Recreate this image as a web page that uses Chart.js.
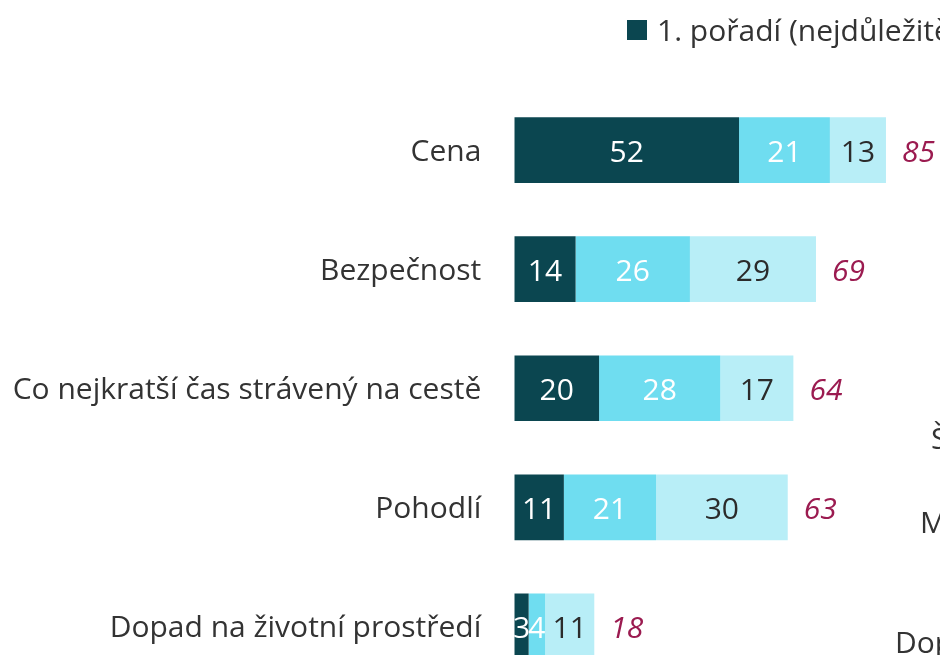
<!DOCTYPE html>
<html lang="cs">
<head>
<meta charset="utf-8">
<script src="https://cdn.jsdelivr.net/npm/chart.js@4/dist/chart.umd.min.js"></script>
<style>
  html, body { margin: 0; padding: 0; background: #fff; overflow: hidden; width: 940px; height: 655px; }
  #wrap { position: absolute; left: 0; top: 0; width: 1000px; height: 738px; }
  #legend { position: absolute; left: 627px; top: 10px; height: 40px; white-space: nowrap; font-family: "Open Sans", sans-serif; font-size: 30px; line-height: 40px; color: #333; display: flex; align-items: center; }
  #legend .item { display: flex; align-items: center; margin-right: 30px; }
  #legend .box { width: 20px; height: 20px; margin-right: 10px; }
  .frag { position: absolute; white-space: nowrap; font-family: "Open Sans", sans-serif; font-size: 30px; line-height: 40px; color: #333; }
</style>
</head>
<body>
<div id="wrap"><canvas id="c" width="1000" height="738"></canvas></div>
<div id="legend"></div>
<div class="frag" style="left:931px; top:418px;">Š</div>
<div class="frag" style="left:920px; top:502px;">M</div>
<div class="frag" style="left:895px; top:622px;">Dop</div>
<script>
const categories = ["Cena", "Bezpečnost", "Co nejkratší čas strávený na cestě", "Pohodlí", "Dopad na životní prostředí"];
const seriesNames = ["1. pořadí (nejdůležitější)", "2. pořadí", "3. pořadí"];
const rank1 = [51.7, 14.1, 19.5, 11.4, 3.3];
const rank2 = [20.9, 26.3, 27.9, 21.2, 3.8];
const rank3 = [12.9, 29.0, 16.8, 30.3, 11.3];
const totals = [85, 69, 64, 63, 18];
const colors = ["#0B4650", "#6FDDF0", "#B8EEF7"];
const labelColors = ["#ffffff", "#ffffff", "#2b2b2b"];
const FONT = '"Open Sans", sans-serif';
const FSIZE = 30;

const legendEl = document.getElementById('legend');
seriesNames.forEach((n, i) => {
  const it = document.createElement('div');
  it.className = 'item';
  const b = document.createElement('span');
  b.className = 'box';
  b.style.background = colors[i];
  const t = document.createElement('span');
  t.textContent = n;
  it.appendChild(b); it.appendChild(t);
  legendEl.appendChild(it);
});

const labelPlugin = {
  id: 'barLabels',
  afterDatasetsDraw(chart) {
    const ctx = chart.ctx;
    ctx.save();
    ctx.textBaseline = 'middle';
    chart.data.datasets.forEach((ds, di) => {
      const meta = chart.getDatasetMeta(di);
      meta.data.forEach((el, i) => {
        const v = ds.data[i];
        const cx = (el.x + el.base) / 2;
        ctx.font = FSIZE + 'px ' + FONT;
        ctx.fillStyle = labelColors[di];
        ctx.textAlign = 'center';
        ctx.fillText(String(Math.round(v)), cx, el.y + 3);
      });
    });
    const last = chart.getDatasetMeta(chart.data.datasets.length - 1);
    last.data.forEach((el, i) => {
      ctx.font = 'italic ' + FSIZE + 'px ' + FONT;
      ctx.fillStyle = '#9B1B50';
      ctx.textAlign = 'left';
      ctx.fillText(String(totals[i]), el.x + 16, el.y + 3);
    });
    ctx.restore();
  }
};

const series = [rank1, rank2, rank3];
new Chart(document.getElementById('c'), {
  type: 'bar',
  data: {
    labels: categories,
    datasets: series.map((d, i) => ({
      label: seriesNames[i],
      data: d,
      backgroundColor: colors[i],
      borderWidth: 0,
      barPercentage: 0.552,
      categoryPercentage: 1.0
    }))
  },
  options: {
    responsive: false,
    animation: false,
    indexAxis: 'y',
    layout: { padding: { top: 90.5, bottom: 52, left: 0, right: 51 } },
    plugins: { legend: { display: false }, tooltip: { enabled: false } },
    scales: {
      x: { stacked: true, min: 0, max: 100, display: false },
      y: {
        stacked: true,
        grid: { display: false, drawTicks: false },
        border: { display: false },
        ticks: { color: '#333', font: { family: FONT, size: FSIZE }, padding: 33, labelOffset: 2 },
        afterFit(s) { s.width = 514.3; }
      }
    }
  },
  plugins: [labelPlugin]
});
</script>
</body>
</html>
